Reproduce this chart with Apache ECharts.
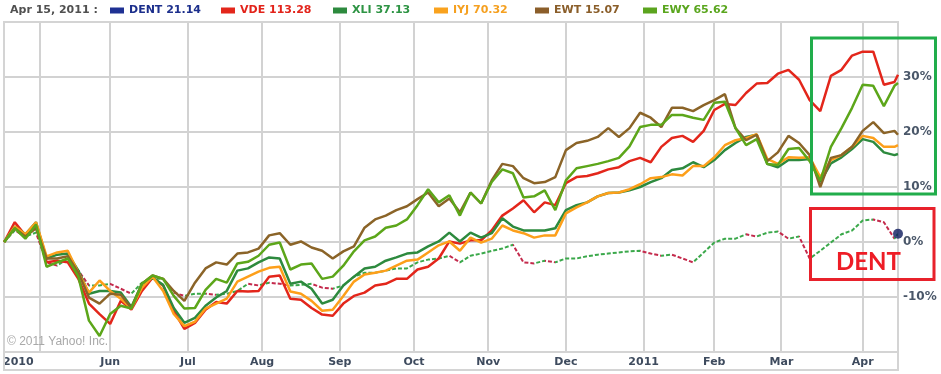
<!DOCTYPE html>
<html><head><meta charset="utf-8">
<script src="https://cdn.jsdelivr.net/npm/echarts@6/dist/echarts.min.js"></script>
<style>html,body{margin:0;padding:0;background:#fff}#c{width:941px;height:374px}</style>
</head><body><div id="c"></div>
<script>
// x positions: trading sessions since mid-April 2010 (sampled every 3 sessions)
const sessions = [0,3,6,9,12,15,18,21,24,27,30,33,36,39,42,45,48,51,54,57,60,63,66,69,72,75,78,81,84,87,90,93,96,99,102,105,108,111,114,117,120,123,126,129,132,135,138,141,144,147,150,153,156,159,162,165,168,171,174,177,180,183,186,189,192,195,198,201,204,207,210,213,216,219,222,225,228,231,234,237,240,243,246,249,252,253];

// % change series
const dent = [0,2.1,1.0,1.7,-3.7,-4.3,-3.0,-5.2,-7.9,-7.9,-7.6,-8.5,-9.4,-7.4,-6.7,-6.7,-9.2,-9.8,-9.4,-9.4,-9.6,-9.4,-8.9,-7.6,-7.9,-7.4,-7.6,-7.9,-7.8,-7.6,-8.3,-8.5,-7.9,-6.3,-5.6,-5.6,-5.2,-4.8,-4.8,-3.7,-3.2,-3.0,-2.5,-3.7,-2.5,-2.1,-1.6,-1.2,-0.5,-3.7,-3.9,-3.4,-3.7,-3.0,-3.0,-2.6,-2.3,-2.1,-1.9,-1.7,-1.6,-2.1,-2.5,-2.3,-3.0,-3.7,-1.9,-0.1,0.6,0.6,1.4,1.0,1.7,1.9,0.6,1.0,-3.0,-1.6,-0.1,1.4,2.1,3.9,4.1,3.6,0.6,1.5];
const vde = [0,3.6,1.2,3.0,-3.7,-3.4,-3.7,-6.7,-11.2,-13.1,-14.9,-10.7,-12.3,-8.9,-6.5,-7.9,-12.5,-15.8,-14.7,-12.3,-10.9,-11.2,-8.9,-9.0,-8.9,-6.3,-6.1,-10.3,-10.5,-12.0,-13.2,-13.4,-11.2,-9.8,-9.2,-7.9,-7.6,-6.7,-6.7,-5.0,-4.5,-3.0,0.1,-0.3,0.3,0.3,2.1,4.8,6.1,7.6,5.4,7.2,6.7,10.7,11.8,12.0,12.5,13.2,13.6,14.7,15.3,14.5,17.3,18.9,19.3,18.2,20.2,24.0,25.1,24.9,27.1,28.8,28.9,30.6,31.3,29.5,25.8,23.8,30.2,31.3,33.9,34.6,34.6,28.6,29.1,30.4];
const xli = [0,2.8,1.4,3.6,-3.0,-2.3,-2.1,-5.2,-9.4,-8.9,-8.9,-9.2,-11.8,-7.6,-6.5,-7.8,-12.0,-14.7,-13.8,-11.6,-10.1,-8.9,-5.2,-4.8,-3.7,-2.8,-3.0,-7.6,-7.2,-8.5,-11.2,-10.5,-7.9,-6.3,-4.8,-4.5,-3.4,-2.8,-2.1,-1.9,-0.8,0.1,1.7,0.1,1.7,0.8,1.6,4.3,2.8,2.1,2.1,2.1,2.5,5.8,6.7,7.2,8.3,8.9,9.0,9.4,10.0,10.9,11.6,13.1,13.4,14.5,13.6,14.9,16.7,18.0,19.1,19.5,14.2,13.6,14.9,14.9,15.1,10.9,14.3,15.4,16.9,18.7,18.2,16.3,15.8,16.0];
const iyj = [0,2.8,1.4,3.6,-2.6,-1.9,-1.6,-5.6,-9.2,-7.0,-8.9,-10.3,-12.1,-8.3,-6.3,-8.9,-13.1,-15.3,-14.5,-12.1,-11.2,-10.3,-7.2,-6.3,-5.4,-4.7,-4.5,-9.0,-9.4,-10.7,-12.5,-12.3,-9.8,-7.2,-5.9,-5.6,-5.2,-4.3,-3.4,-3.2,-1.9,-0.6,0.1,-1.6,0.8,-0.1,0.6,3.0,2.1,1.6,0.8,1.2,1.2,5.2,6.3,7.2,8.3,8.9,9.0,9.6,10.5,11.6,11.8,12.3,12.1,13.8,13.8,15.4,17.6,18.5,18.9,19.6,15.1,14.2,15.4,15.3,15.4,11.8,14.9,15.8,17.3,19.3,18.9,17.3,17.3,17.6];
const ewt = [0,2.5,1.0,2.5,-3.0,-3.0,-2.6,-5.6,-10.1,-11.2,-9.4,-9.6,-12.0,-7.6,-6.1,-6.7,-8.9,-10.7,-7.4,-4.8,-3.7,-4.1,-2.1,-1.9,-1.2,1.2,1.6,-0.5,0.1,-1.0,-1.6,-3.0,-1.7,-0.8,2.6,4.1,4.8,5.8,6.5,7.8,9.0,6.5,7.9,5.4,9.0,7.0,11.2,14.2,13.8,11.6,10.7,10.9,11.8,16.7,18.0,18.4,19.1,20.7,19.1,20.7,23.5,22.6,20.9,24.4,24.4,23.8,24.9,25.8,26.9,20.7,18.5,19.5,14.7,16.3,19.3,18.0,15.8,10.0,15.3,15.8,17.3,20.2,21.8,19.8,20.2,19.5];
const ewy = [0,2.5,0.6,3.2,-4.5,-3.7,-3.0,-6.3,-14.3,-17.1,-13.1,-11.6,-12.1,-7.6,-6.1,-6.7,-9.8,-12.1,-12.0,-8.7,-6.7,-7.4,-3.9,-3.6,-2.5,-0.5,-0.1,-5.0,-4.1,-3.9,-6.7,-6.3,-4.3,-1.7,0.3,1.0,2.6,3.0,4.1,6.7,9.6,7.2,8.5,4.8,9.0,7.0,10.9,13.2,12.5,8.1,8.3,9.4,5.8,11.2,13.4,13.8,14.2,14.7,15.3,17.4,20.9,21.3,21.3,23.1,23.1,22.6,22.2,25.3,25.5,20.7,17.6,18.7,14.2,14.0,16.9,17.1,14.7,11.1,17.3,20.7,24.4,28.6,28.4,24.7,28.4,28.9];

const tickers = ['DENT','VDE','XLI','IYJ','EWT','EWY'];
const prices = ['21.14','113.28','37.13','70.32','15.07','65.62'];
const headerDate = 'Apr 15, 2011 :';

// month grid lines (session index) and labels
const monthTicks = [10,30,52,73,95,116,137,159,181,201,220,243];
const labelSessions = [4,30,52,73,95,116,137,159,181,201,220,243];
const monthLabels = ['2010','Jun','Jul','Aug','Sep','Oct','Nov','Dec','2011','Feb','Mar','Apr'];
const yTicks = [-10,0,10,20,30];
const yMin = -20, yMax = 40;

const lineColors = {VDE:'#e3261b', XLI:'#2d8a3e', IYJ:'#fd9f1a', EWT:'#8b6428', EWY:'#5ca61a'};
const iconColors = ['#1f3193','#e3261b','#2d8a3e','#f9a21e','#8b5e2a','#5ba41e'];
const textColors = ['#1c2f8c','#e2231a','#2e9444','#f5a020','#8a5e2a','#5aa61e'];
const legendLeft = [110,221,333,434,535,643];
const upColor = '#3aa84a', downColor = '#c42a4c';
const gridColor = '#d2d2d2';

const xMax = sessions[sessions.length - 1];
const pair = arr => sessions.map((s, i) => [s, arr[i]]);

const pieces = [{lte: sessions[0], color: upColor}];
for (let i = 1; i < sessions.length; i++) {
  pieces.push({gt: sessions[i-1], lte: sessions[i], color: dent[i] >= dent[i-1] ? upColor : downColor});
}

const mainSeries = [['VDE', vde], ['XLI', xli], ['IYJ', iyj], ['EWT', ewt], ['EWY', ewy]].map(([name, arr]) => ({
  name, type: 'line', data: pair(arr), showSymbol: false, symbol: 'none',
  lineStyle: {width: 2.5, color: lineColors[name]}, itemStyle: {color: lineColors[name]},
  z: 3
}));

const FONT = 'DejaVu Sans';
const legends = tickers.map((t, i) => ({
  left: legendLeft[i], top: 5, padding: 0, itemWidth: 14, itemHeight: 6, icon: 'rect',
  selectedMode: false,
  data: [{name: t, itemStyle: {color: iconColors[i]}, textStyle: {color: textColors[i]}}],
  formatter: n => n + ' ' + prices[tickers.indexOf(n)],
  textStyle: {fontFamily: FONT, fontSize: 11, fontWeight: 'bold'}
}));

const chart = echarts.init(document.getElementById('c'));
chart.setOption({
  animation: false,
  title: {text: headerDate, left: 10, top: 5, padding: 0,
    textStyle: {fontFamily: FONT, fontSize: 11, fontWeight: 'bold', color: '#505050'}},
  legend: legends,
  grid: {left: 2, right: 43, top: 22, bottom: 22},
  xAxis: {
    type: 'value', min: 0, max: xMax,
    axisLine: {show: false},
    axisTick: {show: false},
    splitLine: {show: false},
    axisLabel: {customValues: labelSessions, formatter: v => monthLabels[labelSessions.indexOf(v)] || '',
      color: '#3e4b5e', fontFamily: FONT, fontWeight: 'bold', fontSize: 11, margin: 5}
  },
  yAxis: {
    type: 'value', position: 'right', min: yMin, max: yMax, interval: 10,
    axisLine: {show: false}, axisTick: {show: true, length: 0, lineStyle: {color: gridColor}},
    splitLine: {show: true, lineStyle: {color: gridColor, width: 2}},
    axisLabel: {formatter: v => yTicks.indexOf(v) >= 0 ? v + '%' : '',
      color: '#4a5769', fontFamily: FONT, fontWeight: 'bold', fontSize: 12, margin: 5}
  },
  visualMap: [{type: 'piecewise', show: false, dimension: 0, seriesIndex: 0, pieces}],
  series: [
    {name: 'DENT', type: 'line', data: pair(dent), showSymbol: false, symbol: 'none',
      lineStyle: {width: 2, type: [4, 2]}, itemStyle: {color: '#1f3193'}, z: 2},
    ...mainSeries,
    {name: 'DENT last', type: 'scatter', clip: true, symbolSize: 10,
      data: [[xMax, dent[dent.length - 1]]],
      itemStyle: {color: '#0c1a5c'}, z: 4}
  ]
});

// grid lines placed through the chart's own scales
const px = (x, y) => chart.convertToPixel({gridIndex: 0}, [x, y]);
const gridGraphics = [];
monthTicks.forEach((v, i) => {
  const a = px(v, yMin), b = px(v, yMax);
  const x = Math.round(a[0]);
  gridGraphics.push({type: 'line', id: 'gv' + i, silent: true, z: 1,
    shape: {x1: x, y1: Math.round(a[1]), x2: x, y2: Math.round(b[1])},
    style: {stroke: gridColor, lineWidth: 2}});
});
yTicks.forEach((v, i) => {
  const a = px(0, v), b = px(xMax, v);
  const y = Math.round(a[1]);
  gridGraphics.push({type: 'line', id: 'gh' + i, silent: true, z: 1,
    shape: {x1: Math.round(a[0]), y1: y, x2: Math.round(b[0]), y2: y},
    style: {stroke: gridColor, lineWidth: 2}});
});
const tl = px(0, yMax), br = px(xMax, yMin);

chart.setOption({
  graphic: gridGraphics.concat([
    {type: 'rect', id: 'frame', silent: true, z: 1,
      shape: {x: Math.round(tl[0]), y: Math.round(tl[1]), width: Math.round(br[0] - tl[0]), height: Math.round(br[1] - tl[1]) + 18},
      style: {fill: null, stroke: '#d4d4d4', lineWidth: 2}},
    {type: 'line', id: 'stripTop', silent: true, z: 1,
      shape: {x1: Math.round(tl[0]), y1: Math.round(br[1]), x2: Math.round(br[0]), y2: Math.round(br[1])},
      style: {stroke: '#d4d4d4', lineWidth: 2}},
    {type: 'text', id: 'copy', silent: true, z: 1, x: 7, y: 342,
      style: {text: '\u00a9 2011 Yahoo! Inc.', fill: '#a9a9a9', font: '12px "Liberation Sans"', verticalAlign: 'middle'}},
    {type: 'rect', id: 'greenBox', silent: true, z: 10, shape: {x: 811.5, y: 38, width: 124, height: 156},
      style: {fill: null, stroke: '#21ad4b', lineWidth: 3}},
    {type: 'rect', id: 'redBox', silent: true, z: 10, shape: {x: 810.5, y: 208.5, width: 123.5, height: 71},
      style: {fill: null, stroke: '#e8212b', lineWidth: 3}},
    {type: 'text', id: 'dentNote', silent: true, z: 10, x: 836, y: 262,
      style: {text: 'DENT', fill: '#ee1d26', font: 'bold 24px Lato', verticalAlign: 'middle'}}
  ])
});
</script>
</body></html>
